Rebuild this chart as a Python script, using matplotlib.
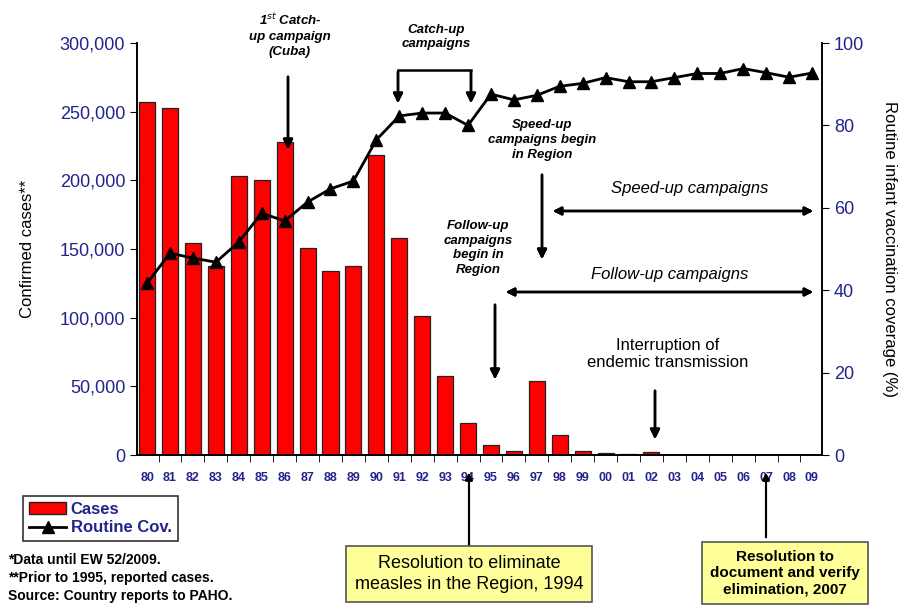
import matplotlib.pyplot as plt
from matplotlib.lines import Line2D
from matplotlib.patches import Patch

# data
years = ["80", "81", "82", "83", "84", "85", "86", "87", "88", "89",
         "90", "91", "92", "93", "94", "95", "96", "97", "98", "99",
         "00", "01", "02", "03", "04", "05", "06", "07", "08", "09"]
cases = [257000, 252500, 154500, 137500, 203000, 200000, 228000, 150500, 134000, 137500,
         218500, 158000, 101500, 57500, 23000, 7300, 2900, 53800, 14500, 2600,
         1700, 500, 2400, 120, 110, 90, 230, 180, 210, 80]
coverage = [41.7, 49.0, 47.8, 46.8, 51.7, 58.7, 56.8, 61.4, 64.6, 66.5,
            76.5, 82.3, 83.0, 83.0, 80.0, 87.6, 86.2, 87.3, 89.5, 90.2,
            91.6, 90.6, 90.6, 91.6, 92.6, 92.6, 93.8, 92.8, 91.7, 92.7]

W, H = 908, 605
BLUE = "#23238e"
NARROW = ["Liberation Sans Narrow", "Liberation Sans", "DejaVu Sans"]
SANS = ["Liberation Sans", "DejaVu Sans"]
plt.rcParams["font.family"] = SANS


def px(x, y):
    """pixel position in the reference -> figure fraction"""
    return (x / W, 1 - y / H)


fig = plt.figure(figsize=(W / 100, H / 100), dpi=100)
ax = fig.add_axes([137 / W, 1 - 455 / H, (822 - 137) / W, (455 - 43) / H])
ax2 = ax.twinx()

xs = range(len(years))
ax.bar(xs, cases, width=0.7, color="#ff0000", edgecolor="#222222", linewidth=0.9)
ax2.plot(xs, coverage, color="black", linewidth=2, marker="^", markersize=8)

ax.set_xlim(-0.44, len(years) - 0.56)
ax.set_ylim(0, 300000)
ax2.set_ylim(0, 100)
ax.set_yticks(range(0, 300001, 50000))
ax.set_yticklabels([f"{v:,}" for v in range(0, 300001, 50000)], color=BLUE, fontsize=13)
ax2.set_yticks(range(0, 101, 20))
ax2.set_yticklabels([str(v) for v in range(0, 101, 20)], color=BLUE, fontsize=13)
ax.set_xticks(list(xs))
ax.set_xticklabels(years, color=BLUE, fontsize=9, fontweight="bold", family=NARROW)
ax.set_xticks([i + 0.5 for i in range(len(years) - 1)], minor=True)
ax.tick_params(axis="x", which="major", length=0, pad=12)
ax.tick_params(axis="x", which="minor", length=5, direction="out")
ax.tick_params(axis="y", length=5, direction="out")
ax2.tick_params(axis="y", length=5, direction="out")

for a in (ax, ax2):
    a.spines["top"].set_visible(False)
    for s in a.spines.values():
        s.set_linewidth(1.2)

ax.set_ylabel("Confirmed cases**", fontsize=12, labelpad=18)
ax2.set_ylabel("Routine infant vaccination coverage (%)", fontsize=12,
               rotation=270, labelpad=24)

arrow = dict(arrowstyle="-|>", color="black", lw=1.8, mutation_scale=14)
dbl = dict(arrowstyle="<|-|>", color="black", lw=1.8, mutation_scale=12)
small = dict(fontsize=9.5, fontweight="bold", fontstyle="italic", family=NARROW,
             ha="center", va="center", linespacing=1.3)

# 1st catch-up
fig.text(*px(290, 35), "1$^{st}$ Catch-\nup campaign\n(Cuba)", **small)
fig.add_artist(plt.annotate("", xy=px(288, 152), xytext=px(288, 74),
                            xycoords="figure fraction", arrowprops=arrow))

# catch-up campaigns bracket
fig.text(*px(436, 37), "Catch-up\ncampaigns", **small)
fig.add_artist(Line2D([398 / W, 471 / W], [1 - 70 / H] * 2, color="black", lw=1.8))
for xx in (398, 471):
    fig.add_artist(plt.annotate("", xy=px(xx, 106), xytext=px(xx, 69),
                                xycoords="figure fraction", arrowprops=arrow))

# speed-up begin
fig.text(*px(542, 140), "Speed-up\ncampaigns begin\nin Region", **small)
fig.add_artist(plt.annotate("", xy=px(542, 262), xytext=px(542, 172),
                            xycoords="figure fraction", arrowprops=arrow))
fig.text(*px(690, 189), "Speed-up campaigns", fontsize=12, fontstyle="italic",
         ha="center", va="center")
fig.add_artist(plt.annotate("", xy=px(816, 211), xytext=px(550, 211),
                            xycoords="figure fraction", arrowprops=dbl))

# follow-up begin
fig.text(*px(478, 248), "Follow-up\ncampaigns\nbegin in\nRegion", **small)
fig.add_artist(plt.annotate("", xy=px(495, 382), xytext=px(495, 302),
                            xycoords="figure fraction", arrowprops=arrow))
fig.text(*px(670, 274), "Follow-up campaigns", fontsize=12, fontstyle="italic",
         ha="center", va="center")
fig.add_artist(plt.annotate("", xy=px(816, 292), xytext=px(503, 292),
                            xycoords="figure fraction", arrowprops=dbl))

# interruption
fig.text(*px(668, 354), "Interruption of\nendemic transmission", fontsize=12,
         ha="center", va="center", linespacing=1.2)
fig.add_artist(plt.annotate("", xy=px(655, 442), xytext=px(655, 388),
                            xycoords="figure fraction", arrowprops=arrow))

# resolution boxes
box = dict(boxstyle="square,pad=0.5", facecolor="#ffff99", edgecolor="#555555", lw=1.2)
fig.text(*px(469, 574), "Resolution to eliminate\nmeasles in the Region, 1994",
         fontsize=13, ha="center", va="center", bbox=dict(box, pad=0.5), linespacing=1.3)
fig.add_artist(plt.annotate("", xy=px(469, 470), xytext=px(469, 548),
                            xycoords="figure fraction",
                            arrowprops=dict(arrowstyle="-|>", color="black", lw=1.5,
                                            mutation_scale=10)))
fig.text(*px(785, 573), "Resolution to\ndocument and verify\nelimination, 2007",
         fontsize=11, fontweight="bold", family=NARROW, ha="center", va="center",
         bbox=dict(box, pad=0.4), linespacing=1.2)
fig.add_artist(plt.annotate("", xy=px(766, 470), xytext=px(766, 540),
                            xycoords="figure fraction",
                            arrowprops=dict(arrowstyle="-|>", color="black", lw=1.5,
                                            mutation_scale=10)))

# legend
handles = [Patch(facecolor="#ff0000", edgecolor="#222222"),
           Line2D([], [], color="black", lw=2, marker="^", markersize=8)]
leg = fig.legend(handles, ["Cases", "Routine Cov."], loc="upper left",
                 bbox_to_anchor=px(15, 488), fancybox=False, edgecolor="black",
                 handlelength=2.2, handletextpad=0.3, borderpad=0.35, labelspacing=0.2,
                 prop=dict(family=NARROW, weight="bold", size=12))
leg.get_frame().set_linewidth(1.2)
for t in leg.get_texts():
    t.set_color(BLUE)

# footnotes
notes = ["*Data until EW 52/2009.", "**Prior to 1995, reported cases.",
         "Source: Country reports to PAHO."]
for i, n in enumerate(notes):
    fig.text(*px(8, 560 + 18 * i), n, fontsize=10, fontweight="bold", family=NARROW,
             ha="left", va="center")

fig.savefig("out.png", dpi=100)
